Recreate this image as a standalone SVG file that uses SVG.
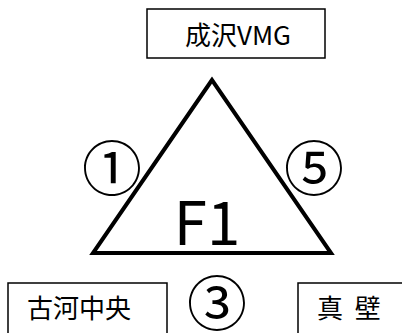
<svg xmlns="http://www.w3.org/2000/svg" width="402" height="333" viewBox="0 0 402 333">
<style>
.box{fill:#fff;stroke:#000;stroke-width:1.5}
.lbl{font-family:"Noto Sans CJK JP","Noto Sans",sans-serif;font-size:26px;fill:#000}
.num{font-family:"Noto Sans CJK JP","Noto Sans",sans-serif;font-size:60px;fill:#000;text-anchor:middle}
</style>
<rect width="402" height="333" fill="#fff"/>
<g id="node-narusawa">
<rect class="box" x="147" y="9" width="178" height="49"/>
<text class="lbl" x="185" y="45">成沢VMG</text>
</g>
<g id="node-f1">
<polygon points="212,80 93,253 331,253" fill="none" stroke="#000" stroke-width="4" stroke-linejoin="miter"/>
<text x="207" y="245" font-family="Noto Sans CJK JP, Noto Sans, sans-serif" font-size="60" text-anchor="middle">F1</text>
</g>
<g id="connectors">
<text class="num" x="112" y="191">①</text>
<text class="num" x="314" y="191">⑤</text>
<text class="num" x="217" y="326">③</text>
</g>
<g id="node-koga">
<rect class="box" x="8" y="283" width="159" height="60"/>
<text class="lbl" x="27" y="318">古河中央</text>
</g>
<g id="node-makabe">
<rect class="box" x="298" y="283" width="120" height="60"/>
<text class="lbl" x="317" y="318" xml:space="preserve" word-spacing="6">真 壁</text>
</g>
</svg>
